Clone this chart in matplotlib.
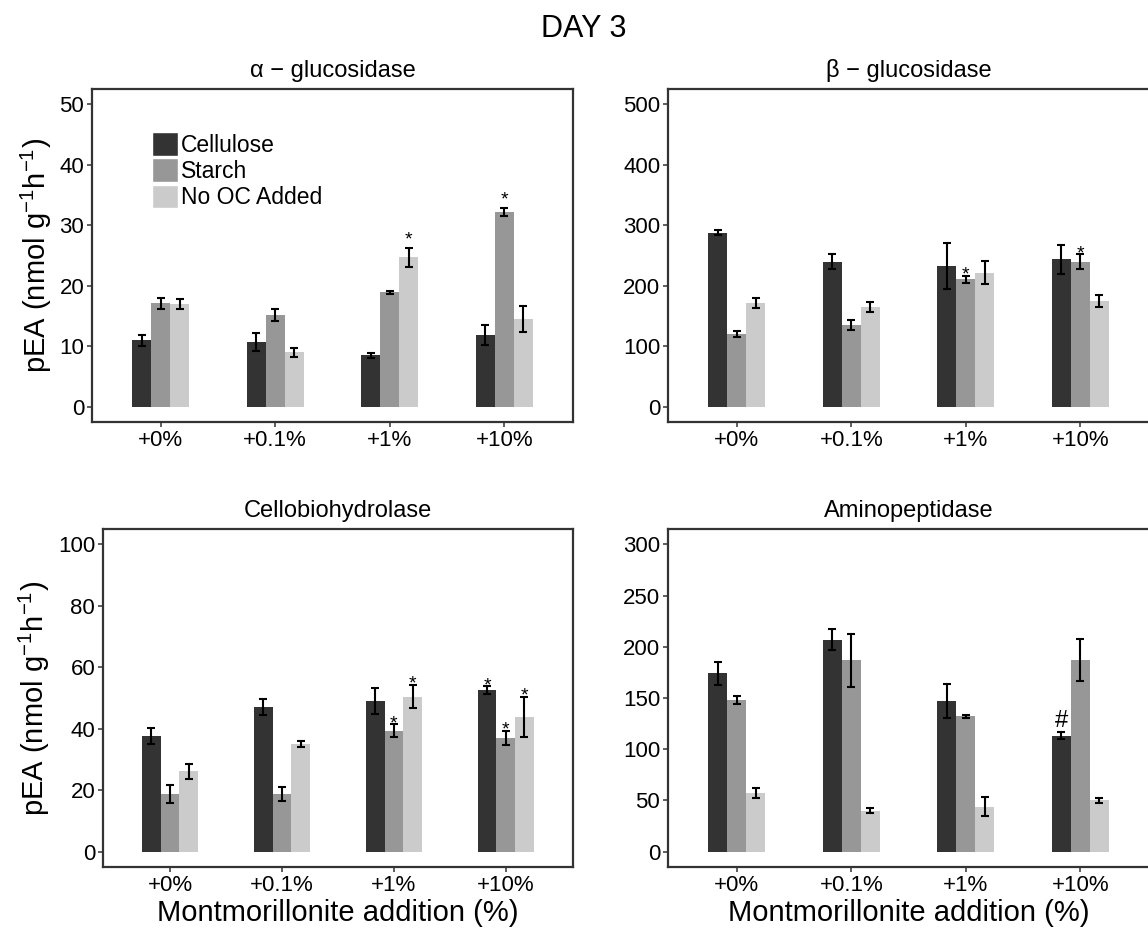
import matplotlib
matplotlib.use("Agg")
import matplotlib.pyplot as plt
import numpy as np
from matplotlib.patches import Patch

plt.rcParams["font.family"] = ["Liberation Sans", "DejaVu Sans"]
plt.rcParams["mathtext.fontset"] = "custom"
plt.rcParams["mathtext.rm"] = "Liberation Sans"
plt.rcParams["mathtext.it"] = "Liberation Sans:italic"

categories = ["+0%", "+0.1%", "+1%", "+10%"]
treatments = ["Cellulose", "Starch", "No OC Added"]

# rows: Cellulose, Starch, No OC Added
alpha_mean = [[11.0, 10.7, 8.5, 11.9], [17.1, 15.2, 18.9, 32.2], [17.0, 9.0, 24.7, 14.5]]
alpha_se = [[0.9, 1.5, 0.45, 1.7], [0.9, 1.0, 0.25, 0.6], [0.9, 0.8, 1.6, 2.2]]
alpha_stars = [(2, 2), (3, 1)]

beta_mean = [[288, 240, 233, 244], [121, 135, 211, 240], [172, 165, 222, 175]]
beta_se = [[4, 12, 38, 24], [5, 8, 6, 12], [8, 9, 19, 10]]
beta_stars = [(2, 1), (3, 1)]

cbh_mean = [[37.7, 47.0, 49.1, 52.6], [18.8, 18.8, 39.4, 37.0], [26.2, 35.0, 50.5, 43.9]]
cbh_se = [[2.6, 2.6, 4.3, 1.3], [2.8, 2.3, 2.1, 2.3], [2.4, 1.0, 3.8, 6.6]]
cbh_stars = [(2, 1), (2, 2), (3, 0), (3, 1), (3, 2)]

amino_mean = [[174, 207, 147, 113], [148, 187, 132, 187], [57, 40, 44, 50]]
amino_se = [[11.5, 10.4, 16.4, 3.4], [3.6, 26, 1.3, 20.5], [5.0, 2.3, 9.6, 2.8]]
amino_hash = [(3, 0)]

colors = ["#333333", "#979797", "#cbcbcb"]
frame_color = "#333333"
ylab = r"pEA (nmol g$^{-1}$h$^{-1}$)"
xlab = "Montmorillonite addition (%)"


def draw_panel(ax, means, ses, ymax, ystep, title, marks, mark, offset, msize):
    x = np.arange(len(categories))
    w = 1 / 6
    for i in range(len(treatments)):
        pos = x + (i - 1) * w
        ax.bar(pos, means[i], width=w, color=colors[i], linewidth=0, zorder=2)
        ax.errorbar(pos, means[i], yerr=ses[i], fmt="none", ecolor="black",
                    elinewidth=1.5, capsize=2.8, capthick=1.5, zorder=3)
    for ci, ti in marks:
        top = means[ti][ci] + ses[ti][ci]
        ax.annotate(mark, (x[ci] + (ti - 1) * w, top), xytext=(0, offset),
                    textcoords="offset points", ha="center", va="baseline",
                    fontsize=msize)
    ax.set_xlim(-0.6, len(categories) - 0.4)
    ax.set_ylim(-0.05 * ymax, 1.05 * ymax)
    ax.set_xticks(x)
    ax.set_xticklabels(categories)
    ax.set_yticks(np.arange(0, ymax + ystep / 2, ystep))
    ax.tick_params(direction="out", length=3.6, width=1.1, color=frame_color,
                   labelcolor="black", labelsize=16, pad=2)
    for sp in ax.spines.values():
        sp.set_color(frame_color)
        sp.set_linewidth(1.6)
    ax.set_title(title, fontsize=17, pad=9)


fig = plt.figure(figsize=(11.48, 9.30), dpi=100)
ax_tl = fig.add_axes([0.0801, 0.5462, 0.419, 0.358])
ax_tr = fig.add_axes([0.5819, 0.5462, 0.419, 0.358])
ax_bl = fig.add_axes([0.0897, 0.0677, 0.4094, 0.3634])
ax_br = fig.add_axes([0.5819, 0.0677, 0.419, 0.3634])

draw_panel(ax_tl, alpha_mean, alpha_se, 50, 10, "α − glucosidase", alpha_stars, "*", 2.5, 14)
draw_panel(ax_tr, beta_mean, beta_se, 500, 100, "β − glucosidase", beta_stars, "*", -2.9, 14)
draw_panel(ax_bl, cbh_mean, cbh_se, 100, 20, "Cellobiohydrolase", cbh_stars, "*", -2.9, 14)
draw_panel(ax_br, amino_mean, amino_se, 300, 50, "Aminopeptidase", amino_hash, "#", 4, 17)

for ax in (ax_tl, ax_bl):
    ax.set_ylabel(ylab, fontsize=21, labelpad=4)
for ax in (ax_bl, ax_br):
    ax.set_xlabel(xlab, fontsize=21, labelpad=2)

handles = [Patch(facecolor=c, edgecolor="white", linewidth=1) for c in colors]
ax_tl.legend(handles, treatments, loc="upper left", bbox_to_anchor=(0.125, 0.871),
             frameon=False, fontsize=16.5, borderpad=0, borderaxespad=0,
             handlelength=1.15, handleheight=1.2, labelspacing=0.08,
             handletextpad=0.1)

fig.text(0.5087, 0.960, "DAY 3", ha="center", va="baseline", fontsize=22)

fig.savefig("out.png", dpi=100)
